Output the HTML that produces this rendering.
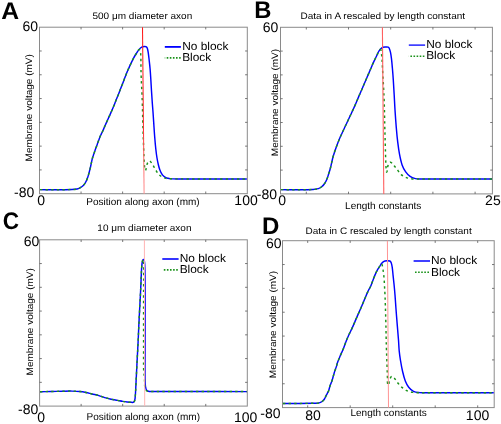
<!DOCTYPE html>
<html><head><meta charset="utf-8"><style>
html,body{margin:0;padding:0;background:#fff;}
svg{display:block;filter:blur(0.45px);}
text{font-family:"Liberation Sans", sans-serif;text-rendering:geometricPrecision;}
</style></head><body>
<svg width="501" height="424" viewBox="0 0 501 424">
<rect width="501" height="424" fill="#fff"/>
<rect x="39.50" y="27.20" width="207.80" height="166.50" fill="none" stroke="#8a8a8a" stroke-width="1"/>
<line x1="39.50" y1="50.99" x2="41.70" y2="50.99" stroke="#555" stroke-width="0.8" />
<line x1="247.30" y1="50.99" x2="245.10" y2="50.99" stroke="#555" stroke-width="0.8" />
<line x1="39.50" y1="74.77" x2="41.70" y2="74.77" stroke="#555" stroke-width="0.8" />
<line x1="247.30" y1="74.77" x2="245.10" y2="74.77" stroke="#555" stroke-width="0.8" />
<line x1="39.50" y1="98.56" x2="41.70" y2="98.56" stroke="#555" stroke-width="0.8" />
<line x1="247.30" y1="98.56" x2="245.10" y2="98.56" stroke="#555" stroke-width="0.8" />
<line x1="39.50" y1="122.34" x2="41.70" y2="122.34" stroke="#555" stroke-width="0.8" />
<line x1="247.30" y1="122.34" x2="245.10" y2="122.34" stroke="#555" stroke-width="0.8" />
<line x1="39.50" y1="146.13" x2="41.70" y2="146.13" stroke="#555" stroke-width="0.8" />
<line x1="247.30" y1="146.13" x2="245.10" y2="146.13" stroke="#555" stroke-width="0.8" />
<line x1="39.50" y1="169.91" x2="41.70" y2="169.91" stroke="#555" stroke-width="0.8" />
<line x1="247.30" y1="169.91" x2="245.10" y2="169.91" stroke="#555" stroke-width="0.8" />
<line x1="81.06" y1="27.20" x2="81.06" y2="29.40" stroke="#555" stroke-width="0.8" />
<line x1="81.06" y1="193.70" x2="81.06" y2="191.50" stroke="#555" stroke-width="0.8" />
<line x1="122.62" y1="27.20" x2="122.62" y2="29.40" stroke="#555" stroke-width="0.8" />
<line x1="122.62" y1="193.70" x2="122.62" y2="191.50" stroke="#555" stroke-width="0.8" />
<line x1="164.18" y1="27.20" x2="164.18" y2="29.40" stroke="#555" stroke-width="0.8" />
<line x1="164.18" y1="193.70" x2="164.18" y2="191.50" stroke="#555" stroke-width="0.8" />
<line x1="205.74" y1="27.20" x2="205.74" y2="29.40" stroke="#555" stroke-width="0.8" />
<line x1="205.74" y1="193.70" x2="205.74" y2="191.50" stroke="#555" stroke-width="0.8" />
<path d="M40.00,189.60 C46.33,189.67 52.67,189.82 59.00,189.80 C63.33,189.79 67.67,189.69 72.00,189.50 C73.67,189.43 75.36,189.35 77.00,189.00 C78.05,188.78 79.05,188.31 80.00,187.80 C81.06,187.23 82.13,186.63 83.00,185.80 C83.99,184.84 84.81,183.70 85.50,182.50 C86.32,181.08 86.93,179.54 87.50,178.00 C88.10,176.37 88.54,174.68 89.00,173.00 C89.54,171.01 90.04,169.01 90.50,167.00 C91.17,164.11 91.66,161.18 92.40,158.30 C92.77,156.87 93.33,155.50 93.80,154.10 C94.36,152.43 94.91,150.76 95.50,149.10 C96.08,147.46 96.71,145.84 97.30,144.20 C97.91,142.54 98.47,140.86 99.10,139.20 C99.64,137.79 100.19,136.38 100.80,135.00 C101.25,133.98 101.83,133.02 102.30,132.00 C103.00,130.48 103.63,128.93 104.30,127.40 C105.00,125.80 105.69,124.19 106.40,122.60 C107.09,121.06 107.80,119.53 108.50,118.00 C109.20,116.47 109.92,114.94 110.60,113.40 C111.25,111.94 111.88,110.47 112.50,109.00 C113.15,107.47 113.78,105.94 114.40,104.40 C115.04,102.80 115.66,101.20 116.30,99.60 C116.99,97.86 117.71,96.14 118.40,94.40 C119.11,92.60 119.79,90.80 120.50,89.00 C121.13,87.40 121.78,85.80 122.40,84.20 C123.01,82.64 123.61,81.07 124.20,79.50 C124.91,77.64 125.55,75.75 126.30,73.90 C127.05,72.05 127.89,70.23 128.70,68.40 C129.49,66.63 130.28,64.86 131.10,63.10 C131.81,61.59 132.51,60.07 133.30,58.60 C134.14,57.03 135.05,55.50 136.00,54.00 C136.95,52.50 137.91,51.00 139.00,49.60 C139.52,48.93 140.14,48.33 140.80,47.80 C141.35,47.36 141.93,46.91 142.60,46.70 C143.37,46.46 144.20,46.48 145.00,46.50 C145.48,46.51 146.02,46.52 146.40,46.80 C146.85,47.13 147.13,47.67 147.30,48.20 C147.74,49.53 147.99,50.92 148.20,52.30 C148.62,55.02 148.89,57.76 149.20,60.50 C149.52,63.33 149.85,66.16 150.10,69.00 C150.39,72.33 150.59,75.67 150.80,79.00 C151.05,83.00 151.25,87.00 151.50,91.00 C151.75,95.00 152.01,99.00 152.30,103.00 C152.51,106.00 152.79,109.00 153.00,112.00 C153.29,116.00 153.53,120.00 153.80,124.00 C154.09,128.33 154.35,132.67 154.70,137.00 C155.02,141.00 155.36,145.01 155.80,149.00 C156.13,152.01 156.52,155.01 157.00,158.00 C157.35,160.18 157.79,162.35 158.30,164.50 C158.72,166.29 159.17,168.07 159.80,169.80 C160.28,171.12 160.87,172.41 161.60,173.60 C162.21,174.59 162.93,175.53 163.80,176.30 C164.59,176.99 165.53,177.51 166.50,177.90 C167.45,178.28 168.49,178.44 169.50,178.60 C170.66,178.78 171.83,178.88 173.00,178.90 C177.00,178.98 181.00,178.90 185.00,178.90 C205.60,178.90 226.20,178.90 246.80,178.90" fill="none" stroke="#0000ff" stroke-width="1.45" stroke-linejoin="round" />
<path d="M40.00,189.60 C46.33,189.67 52.67,189.82 59.00,189.80 C63.33,189.79 67.67,189.69 72.00,189.50 C73.67,189.43 75.36,189.35 77.00,189.00 C78.05,188.78 79.05,188.31 80.00,187.80 C81.06,187.23 82.13,186.63 83.00,185.80 C83.99,184.84 84.81,183.70 85.50,182.50 C86.32,181.08 86.93,179.54 87.50,178.00 C88.10,176.37 88.54,174.68 89.00,173.00 C89.54,171.01 90.04,169.01 90.50,167.00 C91.17,164.11 91.66,161.18 92.40,158.30 C92.77,156.87 93.33,155.50 93.80,154.10 C94.36,152.43 94.91,150.76 95.50,149.10 C96.08,147.46 96.71,145.84 97.30,144.20 C97.91,142.54 98.47,140.86 99.10,139.20 C99.64,137.79 100.19,136.38 100.80,135.00 C101.25,133.98 101.83,133.02 102.30,132.00 C103.00,130.48 103.63,128.93 104.30,127.40 C105.00,125.80 105.69,124.19 106.40,122.60 C107.09,121.06 107.80,119.53 108.50,118.00 C109.20,116.47 109.92,114.94 110.60,113.40 C111.25,111.94 111.88,110.47 112.50,109.00 C113.15,107.47 113.78,105.94 114.40,104.40 C115.04,102.80 115.66,101.20 116.30,99.60 C116.99,97.86 117.71,96.14 118.40,94.40 C119.11,92.60 119.79,90.80 120.50,89.00 C121.13,87.40 121.78,85.80 122.40,84.20 C123.01,82.64 123.61,81.07 124.20,79.50 C124.91,77.64 125.55,75.75 126.30,73.90 C127.05,72.05 127.89,70.23 128.70,68.40 C129.49,66.63 130.28,64.86 131.10,63.10 C131.81,61.59 132.51,60.07 133.30,58.60 C134.14,57.03 135.05,55.50 136.00,54.00 C136.95,52.50 137.62,50.72 139.00,49.60 C139.40,49.27 140.01,50.11 140.20,50.60 C140.61,51.67 140.61,52.86 140.70,54.00 C140.85,56.00 140.86,58.00 140.90,60.00 C140.96,63.33 140.93,66.67 141.00,70.00 C141.07,73.33 141.16,76.67 141.30,80.00 C141.46,84.00 141.73,88.00 141.90,92.00 C142.10,96.67 142.26,101.33 142.40,106.00 C142.56,111.33 142.65,116.67 142.80,122.00 C142.92,126.33 143.06,130.67 143.20,135.00 C143.33,139.00 143.46,143.00 143.60,147.00 C143.69,149.67 143.78,152.33 143.90,155.00 C144.02,157.67 144.12,160.34 144.30,163.00 C144.42,164.84 144.51,166.68 144.80,168.50 C144.91,169.17 145.14,170.97 145.50,170.40 C146.40,168.98 146.22,167.11 146.70,165.50 C147.06,164.31 147.40,163.09 148.00,162.00 C148.29,161.48 148.71,160.76 149.30,160.80 C150.03,160.85 150.52,161.64 151.00,162.20 C151.73,163.06 152.32,164.03 152.90,165.00 C153.95,166.74 154.80,168.59 155.90,170.30 C156.91,171.86 157.86,173.51 159.20,174.80 C160.43,175.98 161.96,176.85 163.50,177.60 C164.59,178.13 165.80,178.41 167.00,178.60 C168.32,178.81 169.67,178.78 171.00,178.80 C175.67,178.88 180.33,178.89 185.00,178.90 C205.60,178.93 226.20,178.90 246.80,178.90" fill="none" stroke="#1a921a" stroke-width="1.45" stroke-linejoin="round" stroke-dasharray="2.4 3.2"/>
<defs><linearGradient id="rgA" gradientUnits="userSpaceOnUse" x1="0" y1="27" x2="0" y2="194"><stop offset="0" stop-color="#ff1a1a"/><stop offset="0.6" stop-color="#ff3030"/><stop offset="0.8" stop-color="#ff7070"/><stop offset="1" stop-color="#ff9494"/></linearGradient></defs>
<line x1="142.50" y1="27.20" x2="144.10" y2="193.70" stroke="url(#rgA)" stroke-width="1.05" />
<text transform="translate(1.18,18.60) scale(1.03,1.0)" font-size="24" font-weight="bold" fill="#000">A</text>
<text transform="translate(22.40,30.60) scale(1.0,1.0)" font-size="14" font-weight="normal" fill="#000">60</text>
<text transform="translate(14.07,196.60) scale(1.0,1.0)" font-size="14" font-weight="normal" fill="#000">-80</text>
<text transform="translate(37.24,205.10) scale(1.0,1.0)" font-size="14" font-weight="normal" fill="#000">0</text>
<text transform="translate(234.35,205.10) scale(1.0,1.0)" font-size="14" font-weight="normal" fill="#000">100</text>
<text transform="translate(92.50,19.00) scale(1.0,0.94)" font-size="10" font-weight="normal" fill="#000">500 μm diameter axon</text>
<text transform="translate(86.30,204.50) scale(1.0,1.0)" font-size="10" font-weight="normal" fill="#000">Position along axon (mm)</text>
<text transform="translate(32.20,161.40) rotate(-90) scale(1.0,0.94)" font-size="10" font-weight="normal" fill="#000">Membrane voltage (mV)</text>
<line x1="164.80" y1="46.90" x2="180.90" y2="46.90" stroke="#0000ff" stroke-width="1.8" />
<line x1="164.80" y1="57.90" x2="180.90" y2="57.90" stroke="#1a921a" stroke-width="1.6" stroke-dasharray="1.6 1.5" stroke-dashoffset="1.2"/>
<text transform="translate(182.15,50.00) scale(1.0,0.97)" font-size="11.9" font-weight="normal" fill="#000">No block</text>
<text transform="translate(182.15,61.40) scale(1.0,0.97)" font-size="11.9" font-weight="normal" fill="#000">Block</text>
<rect x="280.50" y="27.30" width="211.90" height="166.60" fill="none" stroke="#8a8a8a" stroke-width="1"/>
<line x1="280.50" y1="51.10" x2="282.70" y2="51.10" stroke="#555" stroke-width="0.8" />
<line x1="492.40" y1="51.10" x2="490.20" y2="51.10" stroke="#555" stroke-width="0.8" />
<line x1="280.50" y1="74.90" x2="282.70" y2="74.90" stroke="#555" stroke-width="0.8" />
<line x1="492.40" y1="74.90" x2="490.20" y2="74.90" stroke="#555" stroke-width="0.8" />
<line x1="280.50" y1="98.70" x2="282.70" y2="98.70" stroke="#555" stroke-width="0.8" />
<line x1="492.40" y1="98.70" x2="490.20" y2="98.70" stroke="#555" stroke-width="0.8" />
<line x1="280.50" y1="122.50" x2="282.70" y2="122.50" stroke="#555" stroke-width="0.8" />
<line x1="492.40" y1="122.50" x2="490.20" y2="122.50" stroke="#555" stroke-width="0.8" />
<line x1="280.50" y1="146.30" x2="282.70" y2="146.30" stroke="#555" stroke-width="0.8" />
<line x1="492.40" y1="146.30" x2="490.20" y2="146.30" stroke="#555" stroke-width="0.8" />
<line x1="280.50" y1="170.10" x2="282.70" y2="170.10" stroke="#555" stroke-width="0.8" />
<line x1="492.40" y1="170.10" x2="490.20" y2="170.10" stroke="#555" stroke-width="0.8" />
<line x1="306.30" y1="27.30" x2="306.30" y2="29.50" stroke="#555" stroke-width="0.8" />
<line x1="306.30" y1="193.90" x2="306.30" y2="191.70" stroke="#555" stroke-width="0.8" />
<line x1="348.50" y1="27.30" x2="348.50" y2="29.50" stroke="#555" stroke-width="0.8" />
<line x1="348.50" y1="193.90" x2="348.50" y2="191.70" stroke="#555" stroke-width="0.8" />
<line x1="390.70" y1="27.30" x2="390.70" y2="29.50" stroke="#555" stroke-width="0.8" />
<line x1="390.70" y1="193.90" x2="390.70" y2="191.70" stroke="#555" stroke-width="0.8" />
<line x1="432.90" y1="27.30" x2="432.90" y2="29.50" stroke="#555" stroke-width="0.8" />
<line x1="432.90" y1="193.90" x2="432.90" y2="191.70" stroke="#555" stroke-width="0.8" />
<line x1="475.10" y1="27.30" x2="475.10" y2="29.50" stroke="#555" stroke-width="0.8" />
<line x1="475.10" y1="193.90" x2="475.10" y2="191.70" stroke="#555" stroke-width="0.8" />
<path d="M281.00,189.60 C287.33,189.67 293.67,189.82 300.00,189.80 C304.33,189.79 308.67,189.78 313.00,189.50 C314.79,189.38 316.58,189.12 318.30,188.60 C319.39,188.27 320.40,187.69 321.30,187.00 C322.42,186.14 323.46,185.14 324.30,184.00 C325.31,182.62 326.12,181.08 326.80,179.50 C327.56,177.73 328.02,175.84 328.60,174.00 C329.18,172.17 329.82,170.36 330.30,168.50 C331.29,164.69 332.00,160.81 333.00,157.00 C333.50,155.07 334.18,153.19 334.80,151.30 C335.34,149.66 335.90,148.02 336.50,146.40 C337.20,144.49 337.93,142.59 338.70,140.70 C339.37,139.05 340.07,137.42 340.80,135.80 C341.60,134.02 342.47,132.27 343.30,130.50 C344.20,128.57 345.09,126.63 346.00,124.70 C346.69,123.23 347.41,121.77 348.10,120.30 C348.81,118.80 349.50,117.30 350.20,115.80 C351.00,114.07 351.80,112.33 352.60,110.60 C353.40,108.87 354.23,107.15 355.00,105.40 C355.79,103.61 356.54,101.80 357.30,100.00 C358.00,98.34 358.69,96.66 359.40,95.00 C360.09,93.39 360.81,91.80 361.50,90.20 C362.21,88.57 362.90,86.93 363.60,85.30 C364.33,83.60 365.06,81.90 365.80,80.20 C366.56,78.43 367.34,76.67 368.10,74.90 C368.80,73.27 369.51,71.64 370.20,70.00 C370.91,68.34 371.58,66.66 372.30,65.00 C372.94,63.52 373.61,62.06 374.30,60.60 C375.11,58.89 375.98,57.20 376.80,55.50 C377.44,54.17 377.94,52.77 378.70,51.50 C379.28,50.52 379.98,49.60 380.80,48.80 C381.43,48.18 382.17,47.62 383.00,47.30 C383.78,47.00 384.66,47.03 385.50,47.00 C386.40,46.97 387.34,46.82 388.20,47.10 C388.67,47.25 389.00,47.75 389.20,48.20 C389.78,49.51 390.20,50.90 390.50,52.30 C390.97,54.48 391.24,56.69 391.50,58.90 C391.87,62.03 392.13,65.16 392.40,68.30 C392.73,72.20 393.04,76.10 393.30,80.00 C393.64,85.00 393.92,90.00 394.20,95.00 C394.48,100.00 394.68,105.00 395.00,110.00 C395.38,115.90 395.80,121.81 396.30,127.70 C396.70,132.44 397.13,137.18 397.70,141.90 C398.20,146.01 398.72,150.13 399.50,154.20 C400.19,157.81 400.89,161.44 402.10,164.90 C402.97,167.38 404.20,169.75 405.70,171.90 C406.90,173.62 408.37,175.21 410.10,176.40 C411.67,177.49 413.55,178.11 415.40,178.60 C416.89,178.99 418.46,178.99 420.00,179.00 C444.00,179.13 468.00,179.00 492.00,179.00" fill="none" stroke="#0000ff" stroke-width="1.45" stroke-linejoin="round" />
<path d="M281.00,189.60 C287.33,189.67 293.67,189.82 300.00,189.80 C304.33,189.79 308.67,189.78 313.00,189.50 C314.79,189.38 316.58,189.12 318.30,188.60 C319.39,188.27 320.40,187.69 321.30,187.00 C322.42,186.14 323.46,185.14 324.30,184.00 C325.31,182.62 326.12,181.08 326.80,179.50 C327.56,177.73 328.02,175.84 328.60,174.00 C329.18,172.17 329.82,170.36 330.30,168.50 C331.29,164.69 332.00,160.81 333.00,157.00 C333.50,155.07 334.18,153.19 334.80,151.30 C335.34,149.66 335.90,148.02 336.50,146.40 C337.20,144.49 337.93,142.59 338.70,140.70 C339.37,139.05 340.07,137.42 340.80,135.80 C341.60,134.02 342.47,132.27 343.30,130.50 C344.20,128.57 345.09,126.63 346.00,124.70 C346.69,123.23 347.41,121.77 348.10,120.30 C348.81,118.80 349.50,117.30 350.20,115.80 C351.00,114.07 351.80,112.33 352.60,110.60 C353.40,108.87 354.23,107.15 355.00,105.40 C355.79,103.61 356.54,101.80 357.30,100.00 C358.00,98.34 358.69,96.66 359.40,95.00 C360.09,93.39 360.81,91.80 361.50,90.20 C362.21,88.57 362.90,86.93 363.60,85.30 C364.33,83.60 365.06,81.90 365.80,80.20 C366.56,78.43 367.34,76.67 368.10,74.90 C368.80,73.27 369.51,71.64 370.20,70.00 C370.91,68.34 371.58,66.66 372.30,65.00 C372.94,63.52 373.61,62.06 374.30,60.60 C375.11,58.89 375.98,57.20 376.80,55.50 C377.44,54.17 377.90,52.74 378.70,51.50 C379.18,50.75 379.96,48.98 380.60,49.60 C381.72,50.68 381.27,52.66 381.50,54.20 C381.73,55.76 381.89,57.33 382.00,58.90 C382.22,62.03 382.33,65.17 382.50,68.30 C382.67,71.43 382.83,74.57 383.00,77.70 C383.26,82.47 383.58,87.23 383.80,92.00 C384.05,97.33 384.25,102.67 384.40,108.00 C384.58,114.57 384.64,121.13 384.80,127.70 C384.94,133.60 385.13,139.50 385.30,145.40 C385.43,150.13 385.52,154.87 385.70,159.60 C385.82,162.90 385.91,166.21 386.20,169.50 C386.28,170.35 386.45,172.78 386.80,172.00 C387.70,169.99 387.44,167.63 388.00,165.50 C388.25,164.55 388.59,163.57 389.20,162.80 C389.51,162.40 390.10,162.09 390.60,162.20 C391.32,162.36 391.88,162.98 392.40,163.50 C393.09,164.19 393.60,165.04 394.20,165.80 C395.36,167.27 396.53,168.73 397.70,170.20 C398.87,171.67 399.80,173.36 401.20,174.60 C402.51,175.76 404.09,176.62 405.70,177.30 C407.39,178.01 409.20,178.40 411.00,178.70 C412.65,178.97 414.33,178.99 416.00,179.00 C441.33,179.09 466.67,179.00 492.00,179.00" fill="none" stroke="#1a921a" stroke-width="1.45" stroke-linejoin="round" stroke-dasharray="2.4 3.2"/>
<line x1="382.40" y1="27.30" x2="383.80" y2="193.90" stroke="#ff6060" stroke-width="1.1" />
<text transform="translate(254.36,17.55) scale(0.99,1.0)" font-size="24" font-weight="bold" fill="#000">B</text>
<text transform="translate(262.70,32.00) scale(1.0,1.0)" font-size="14" font-weight="normal" fill="#000">60</text>
<text transform="translate(256.87,199.00) scale(1.0,1.0)" font-size="14" font-weight="normal" fill="#000">-80</text>
<text transform="translate(278.34,205.10) scale(1.0,1.0)" font-size="14" font-weight="normal" fill="#000">0</text>
<text transform="translate(485.10,204.80) scale(1.0,1.0)" font-size="14" font-weight="normal" fill="#000">25</text>
<text transform="translate(300.50,19.30) scale(1.0,0.94)" font-size="10" font-weight="normal" fill="#000">Data in A rescaled by length constant</text>
<text transform="translate(345.10,209.30) scale(1.0,1.0)" font-size="10" font-weight="normal" fill="#000">Length constants</text>
<text transform="translate(277.80,156.20) rotate(-90) scale(1.0,0.94)" font-size="10" font-weight="normal" fill="#000">Membrane voltage (mV)</text>
<line x1="408.80" y1="45.10" x2="425.10" y2="45.10" stroke="#0000ff" stroke-width="1.3" />
<line x1="408.80" y1="56.20" x2="425.10" y2="56.20" stroke="#1a921a" stroke-width="1.6" stroke-dasharray="1.6 1.5" stroke-dashoffset="1.5"/>
<text transform="translate(426.15,47.60) scale(1.0,0.97)" font-size="11.9" font-weight="normal" fill="#000">No block</text>
<text transform="translate(426.15,58.90) scale(1.0,0.97)" font-size="11.9" font-weight="normal" fill="#000">Block</text>
<rect x="39.60" y="239.80" width="207.70" height="166.30" fill="none" stroke="#8a8a8a" stroke-width="1"/>
<line x1="39.60" y1="263.56" x2="41.80" y2="263.56" stroke="#555" stroke-width="0.8" />
<line x1="247.30" y1="263.56" x2="245.10" y2="263.56" stroke="#555" stroke-width="0.8" />
<line x1="39.60" y1="287.31" x2="41.80" y2="287.31" stroke="#555" stroke-width="0.8" />
<line x1="247.30" y1="287.31" x2="245.10" y2="287.31" stroke="#555" stroke-width="0.8" />
<line x1="39.60" y1="311.07" x2="41.80" y2="311.07" stroke="#555" stroke-width="0.8" />
<line x1="247.30" y1="311.07" x2="245.10" y2="311.07" stroke="#555" stroke-width="0.8" />
<line x1="39.60" y1="334.83" x2="41.80" y2="334.83" stroke="#555" stroke-width="0.8" />
<line x1="247.30" y1="334.83" x2="245.10" y2="334.83" stroke="#555" stroke-width="0.8" />
<line x1="39.60" y1="358.59" x2="41.80" y2="358.59" stroke="#555" stroke-width="0.8" />
<line x1="247.30" y1="358.59" x2="245.10" y2="358.59" stroke="#555" stroke-width="0.8" />
<line x1="39.60" y1="382.34" x2="41.80" y2="382.34" stroke="#555" stroke-width="0.8" />
<line x1="247.30" y1="382.34" x2="245.10" y2="382.34" stroke="#555" stroke-width="0.8" />
<line x1="81.14" y1="239.80" x2="81.14" y2="242.00" stroke="#555" stroke-width="0.8" />
<line x1="81.14" y1="406.10" x2="81.14" y2="403.90" stroke="#555" stroke-width="0.8" />
<line x1="122.68" y1="239.80" x2="122.68" y2="242.00" stroke="#555" stroke-width="0.8" />
<line x1="122.68" y1="406.10" x2="122.68" y2="403.90" stroke="#555" stroke-width="0.8" />
<line x1="164.22" y1="239.80" x2="164.22" y2="242.00" stroke="#555" stroke-width="0.8" />
<line x1="164.22" y1="406.10" x2="164.22" y2="403.90" stroke="#555" stroke-width="0.8" />
<line x1="205.76" y1="239.80" x2="205.76" y2="242.00" stroke="#555" stroke-width="0.8" />
<line x1="205.76" y1="406.10" x2="205.76" y2="403.90" stroke="#555" stroke-width="0.8" />
<path d="M40.00,391.70 C43.67,391.63 47.33,391.58 51.00,391.50 C55.00,391.41 59.00,391.28 63.00,391.20 C66.00,391.14 69.00,391.05 72.00,391.10 C74.67,391.15 77.34,391.23 80.00,391.50 C82.02,391.70 84.02,392.09 86.00,392.50 C88.02,392.92 90.00,393.52 92.00,394.00 C94.30,394.55 96.63,394.96 98.90,395.60 C100.87,396.16 102.74,397.02 104.70,397.60 C106.78,398.22 108.88,398.74 111.00,399.20 C113.15,399.67 115.33,400.00 117.50,400.40 C119.27,400.73 121.03,401.10 122.80,401.40 C124.23,401.64 125.66,401.85 127.10,402.00 C128.23,402.12 129.37,402.15 130.50,402.20 C131.43,402.25 132.42,402.60 133.30,402.30 C133.93,402.09 134.40,401.43 134.60,400.80 C135.09,399.26 135.18,397.61 135.30,396.00 C135.68,391.01 135.84,386.00 136.10,381.00 C136.44,374.33 136.76,367.67 137.10,361.00 C137.42,354.67 137.79,348.33 138.10,342.00 C138.36,336.67 138.55,331.33 138.80,326.00 C139.05,320.67 139.32,315.33 139.60,310.00 C139.86,305.00 140.15,300.00 140.40,295.00 C140.62,290.67 140.80,286.33 141.00,282.00 C141.23,277.00 141.34,271.99 141.70,267.00 C141.84,264.99 142.06,262.97 142.50,261.00 C142.63,260.40 142.85,259.66 143.40,259.40 C143.74,259.24 144.10,259.84 144.20,260.20 C144.55,261.43 144.63,262.72 144.70,264.00 C144.90,267.66 144.96,271.33 145.00,275.00 C145.09,283.33 145.09,291.67 145.10,300.00 C145.12,316.67 145.10,333.33 145.10,350.00 C145.10,360.00 144.99,370.00 145.10,380.00 C145.12,382.17 145.18,384.35 145.50,386.50 C145.69,387.77 145.92,389.11 146.60,390.20 C146.99,390.82 147.80,391.09 148.50,391.30 C149.30,391.54 150.16,391.50 151.00,391.50 C183.00,391.60 215.00,391.57 247.00,391.60" fill="none" stroke="#0000ff" stroke-width="1.45" stroke-linejoin="round" />
<path d="M40.00,391.70 C43.67,391.63 47.33,391.58 51.00,391.50 C55.00,391.41 59.00,391.28 63.00,391.20 C66.00,391.14 69.00,391.05 72.00,391.10 C74.67,391.15 77.34,391.23 80.00,391.50 C82.02,391.70 84.02,392.09 86.00,392.50 C88.02,392.92 90.00,393.52 92.00,394.00 C94.30,394.55 96.63,394.96 98.90,395.60 C100.87,396.16 102.74,397.02 104.70,397.60 C106.78,398.22 108.88,398.74 111.00,399.20 C113.15,399.67 115.33,400.00 117.50,400.40 C119.27,400.73 121.03,401.10 122.80,401.40 C124.23,401.64 125.66,401.85 127.10,402.00 C128.23,402.12 129.37,402.15 130.50,402.20 C131.43,402.25 132.42,402.60 133.30,402.30 C133.93,402.09 134.40,401.43 134.60,400.80 C135.09,399.26 135.18,397.61 135.30,396.00 C135.68,391.01 135.84,386.00 136.10,381.00 C136.44,374.33 136.76,367.67 137.10,361.00 C137.42,354.67 137.79,348.33 138.10,342.00 C138.36,336.67 138.55,331.33 138.80,326.00 C139.05,320.67 139.32,315.33 139.60,310.00 C139.86,305.00 140.15,300.00 140.40,295.00 C140.62,290.67 140.80,286.33 141.00,282.00 C141.23,277.00 141.34,271.99 141.70,267.00 C141.84,264.99 142.06,262.97 142.50,261.00 C142.63,260.40 143.09,258.88 143.40,259.40 C144.02,260.43 143.69,261.80 143.70,263.00 C143.76,275.33 143.61,287.67 143.60,300.00 C143.58,316.67 143.58,333.33 143.60,350.00 C143.61,357.33 143.47,364.67 143.70,372.00 C143.74,373.35 144.23,374.66 144.40,376.00 C144.53,376.99 144.59,378.00 144.60,379.00 C144.62,380.67 144.39,382.34 144.50,384.00 C144.60,385.52 144.77,387.04 145.20,388.50 C145.45,389.34 145.84,390.22 146.50,390.80 C147.02,391.26 147.81,391.29 148.50,391.40 C149.32,391.53 150.17,391.50 151.00,391.50 C183.00,391.56 215.00,391.57 247.00,391.60" fill="none" stroke="#1a921a" stroke-width="1.45" stroke-linejoin="round" stroke-dasharray="2.4 3.2"/>
<line x1="144.40" y1="239.80" x2="144.70" y2="406.10" stroke="#ffb4b4" stroke-width="1.0" />
<text transform="translate(2.70,228.60) scale(0.94,1.0)" font-size="24" font-weight="bold" fill="#000">C</text>
<text transform="translate(23.80,245.50) scale(1.0,1.0)" font-size="14" font-weight="normal" fill="#000">60</text>
<text transform="translate(18.07,413.80) scale(1.0,1.0)" font-size="14" font-weight="normal" fill="#000">-80</text>
<text transform="translate(37.24,421.70) scale(1.0,1.0)" font-size="14" font-weight="normal" fill="#000">0</text>
<text transform="translate(234.05,421.50) scale(1.0,1.0)" font-size="14" font-weight="normal" fill="#000">100</text>
<text transform="translate(97.35,230.50) scale(1.0,0.94)" font-size="10" font-weight="normal" fill="#000">10 μm diameter axon</text>
<text transform="translate(86.60,420.00) scale(1.0,1.0)" font-size="10" font-weight="normal" fill="#000">Position along axon (mm)</text>
<text transform="translate(33.40,375.40) rotate(-90) scale(1.0,0.94)" font-size="10" font-weight="normal" fill="#000">Membrane voltage (mV)</text>
<line x1="162.30" y1="259.00" x2="178.60" y2="259.00" stroke="#0000ff" stroke-width="1.6" />
<line x1="162.30" y1="269.90" x2="178.60" y2="269.90" stroke="#1a921a" stroke-width="1.6" stroke-dasharray="1.6 1.5" stroke-dashoffset="1.6"/>
<text transform="translate(179.65,261.50) scale(1.0,0.97)" font-size="11.9" font-weight="normal" fill="#000">No block</text>
<text transform="translate(179.65,272.70) scale(1.0,0.97)" font-size="11.9" font-weight="normal" fill="#000">Block</text>
<rect x="282.50" y="240.70" width="211.70" height="166.90" fill="none" stroke="#8a8a8a" stroke-width="1"/>
<line x1="282.50" y1="264.54" x2="284.70" y2="264.54" stroke="#555" stroke-width="0.8" />
<line x1="494.20" y1="264.54" x2="492.00" y2="264.54" stroke="#555" stroke-width="0.8" />
<line x1="282.50" y1="288.39" x2="284.70" y2="288.39" stroke="#555" stroke-width="0.8" />
<line x1="494.20" y1="288.39" x2="492.00" y2="288.39" stroke="#555" stroke-width="0.8" />
<line x1="282.50" y1="312.23" x2="284.70" y2="312.23" stroke="#555" stroke-width="0.8" />
<line x1="494.20" y1="312.23" x2="492.00" y2="312.23" stroke="#555" stroke-width="0.8" />
<line x1="282.50" y1="336.07" x2="284.70" y2="336.07" stroke="#555" stroke-width="0.8" />
<line x1="494.20" y1="336.07" x2="492.00" y2="336.07" stroke="#555" stroke-width="0.8" />
<line x1="282.50" y1="359.91" x2="284.70" y2="359.91" stroke="#555" stroke-width="0.8" />
<line x1="494.20" y1="359.91" x2="492.00" y2="359.91" stroke="#555" stroke-width="0.8" />
<line x1="282.50" y1="383.76" x2="284.70" y2="383.76" stroke="#555" stroke-width="0.8" />
<line x1="494.20" y1="383.76" x2="492.00" y2="383.76" stroke="#555" stroke-width="0.8" />
<line x1="307.70" y1="240.70" x2="307.70" y2="242.90" stroke="#555" stroke-width="0.8" />
<line x1="307.70" y1="407.60" x2="307.70" y2="405.40" stroke="#555" stroke-width="0.8" />
<line x1="350.20" y1="240.70" x2="350.20" y2="242.90" stroke="#555" stroke-width="0.8" />
<line x1="350.20" y1="407.60" x2="350.20" y2="405.40" stroke="#555" stroke-width="0.8" />
<line x1="392.70" y1="240.70" x2="392.70" y2="242.90" stroke="#555" stroke-width="0.8" />
<line x1="392.70" y1="407.60" x2="392.70" y2="405.40" stroke="#555" stroke-width="0.8" />
<line x1="435.20" y1="240.70" x2="435.20" y2="242.90" stroke="#555" stroke-width="0.8" />
<line x1="435.20" y1="407.60" x2="435.20" y2="405.40" stroke="#555" stroke-width="0.8" />
<line x1="477.70" y1="240.70" x2="477.70" y2="242.90" stroke="#555" stroke-width="0.8" />
<line x1="477.70" y1="407.60" x2="477.70" y2="405.40" stroke="#555" stroke-width="0.8" />
<path d="M283.00,403.40 C288.67,403.40 294.33,403.42 300.00,403.40 C304.00,403.39 308.00,403.37 312.00,403.30 C314.00,403.27 316.01,403.31 318.00,403.10 C318.86,403.01 319.71,402.75 320.50,402.40 C321.31,402.04 322.08,401.58 322.75,401.00 C323.41,400.43 323.98,399.74 324.45,399.00 C325.02,398.12 325.38,397.13 325.85,396.20 C326.31,395.30 326.79,394.40 327.25,393.50 C327.69,392.64 328.22,391.81 328.55,390.90 C329.19,389.14 329.55,387.28 330.15,385.50 C330.75,383.71 331.57,382.00 332.15,380.20 C332.94,377.76 333.49,375.25 334.25,372.80 C334.92,370.65 335.78,368.55 336.45,366.40 C336.81,365.25 336.95,364.03 337.35,362.90 C338.15,360.66 339.13,358.49 340.05,356.30 C341.09,353.82 342.25,351.39 343.25,348.90 C344.25,346.42 345.05,343.88 346.05,341.40 C347.05,338.91 348.13,336.44 349.25,334.00 C350.27,331.78 351.43,329.62 352.45,327.40 C353.36,325.42 354.19,323.40 355.05,321.40 C355.99,319.23 356.91,317.06 357.85,314.90 C358.97,312.33 360.14,309.78 361.25,307.20 C362.37,304.61 363.45,302.00 364.55,299.40 C365.65,296.80 366.66,294.16 367.85,291.60 C368.63,289.92 369.69,288.38 370.45,286.70 C371.32,284.78 371.99,282.77 372.75,280.80 C373.55,278.73 374.28,276.64 375.15,274.60 C375.85,272.97 376.58,271.35 377.45,269.80 C378.15,268.54 379.07,267.41 379.85,266.20 C380.35,265.41 380.73,264.54 381.30,263.80 C381.85,263.09 382.49,262.44 383.20,261.90 C383.73,261.50 384.36,261.20 385.00,261.00 C385.64,260.80 386.33,260.70 387.00,260.70 C387.94,260.70 388.96,260.58 389.80,261.00 C390.48,261.34 390.92,262.09 391.20,262.80 C391.74,264.17 391.98,265.64 392.20,267.10 C392.62,269.92 392.80,272.77 393.10,275.60 C393.43,278.73 393.79,281.86 394.10,285.00 C394.43,288.33 394.74,291.66 395.00,295.00 C395.34,299.23 395.58,303.47 395.90,307.70 C396.28,312.83 396.69,317.97 397.10,323.10 C397.55,328.73 398.07,334.36 398.50,340.00 C398.77,343.63 398.85,347.28 399.20,350.90 C399.51,354.11 399.97,357.31 400.50,360.50 C401.11,364.18 401.75,367.87 402.60,371.50 C403.35,374.71 404.11,377.93 405.30,381.00 C406.15,383.20 407.23,385.36 408.70,387.20 C410.01,388.85 411.61,390.37 413.50,391.30 C415.40,392.23 417.60,392.34 419.70,392.60 C421.45,392.81 423.23,392.70 425.00,392.70 C447.90,392.73 470.80,392.70 493.70,392.70" fill="none" stroke="#0000ff" stroke-width="1.45" stroke-linejoin="round" />
<path d="M283.00,403.40 C288.67,403.40 294.33,403.42 300.00,403.40 C304.00,403.39 308.00,403.37 312.00,403.30 C314.00,403.27 316.01,403.31 318.00,403.10 C318.86,403.01 319.71,402.75 320.50,402.40 C321.31,402.04 322.08,401.58 322.75,401.00 C323.41,400.43 323.98,399.74 324.45,399.00 C325.02,398.12 325.38,397.13 325.85,396.20 C326.31,395.30 326.79,394.40 327.25,393.50 C327.69,392.64 328.22,391.81 328.55,390.90 C329.19,389.14 329.55,387.28 330.15,385.50 C330.75,383.71 331.57,382.00 332.15,380.20 C332.94,377.76 333.49,375.25 334.25,372.80 C334.92,370.65 335.78,368.55 336.45,366.40 C336.81,365.25 336.95,364.03 337.35,362.90 C338.15,360.66 339.13,358.49 340.05,356.30 C341.09,353.82 342.25,351.39 343.25,348.90 C344.25,346.42 345.05,343.88 346.05,341.40 C347.05,338.91 348.13,336.44 349.25,334.00 C350.27,331.78 351.43,329.62 352.45,327.40 C353.36,325.42 354.19,323.40 355.05,321.40 C355.99,319.23 356.91,317.06 357.85,314.90 C358.97,312.33 360.14,309.78 361.25,307.20 C362.37,304.61 363.45,302.00 364.55,299.40 C365.65,296.80 366.66,294.16 367.85,291.60 C368.63,289.92 369.69,288.38 370.45,286.70 C371.32,284.78 371.99,282.77 372.75,280.80 C373.55,278.73 374.28,276.64 375.15,274.60 C375.85,272.97 376.58,271.35 377.45,269.80 C378.15,268.54 379.07,267.41 379.85,266.20 C380.35,265.41 380.51,263.30 381.30,263.80 C382.55,264.59 382.38,266.56 382.70,268.00 C383.18,270.17 383.43,272.39 383.70,274.60 C383.93,276.49 384.07,278.40 384.20,280.30 C384.37,282.80 384.46,285.30 384.60,287.80 C384.73,290.20 384.90,292.60 385.00,295.00 C385.20,300.00 385.35,305.00 385.50,310.00 C385.65,315.00 385.78,320.00 385.90,325.00 C386.02,330.00 386.08,335.00 386.20,340.00 C386.31,344.57 386.45,349.13 386.60,353.70 C386.75,358.27 386.93,362.83 387.10,367.40 C387.23,371.03 387.27,374.67 387.50,378.30 C387.64,380.57 386.94,383.20 388.20,385.10 C388.98,386.28 388.87,382.35 389.30,381.00 C389.64,379.91 389.93,378.79 390.50,377.80 C390.85,377.19 391.31,376.44 392.00,376.30 C392.57,376.19 393.07,376.81 393.50,377.20 C394.08,377.72 394.53,378.38 395.00,379.00 C396.20,380.58 397.21,382.29 398.50,383.80 C399.76,385.27 401.09,386.69 402.60,387.90 C404.07,389.08 405.67,390.14 407.40,390.90 C409.11,391.65 410.96,392.05 412.80,392.40 C414.15,392.66 415.53,392.67 416.90,392.70 C419.60,392.77 422.30,392.70 425.00,392.70 C447.90,392.70 470.80,392.70 493.70,392.70" fill="none" stroke="#1a921a" stroke-width="1.45" stroke-linejoin="round" stroke-dasharray="2.4 3.2"/>
<line x1="387.40" y1="240.70" x2="388.50" y2="407.60" stroke="#ff9494" stroke-width="1.0" />
<text transform="translate(262.04,233.60) scale(1.0,1.0)" font-size="24" font-weight="bold" fill="#000">D</text>
<text transform="translate(266.00,248.30) scale(1.0,1.0)" font-size="14" font-weight="normal" fill="#000">60</text>
<text transform="translate(260.27,418.00) scale(1.0,1.0)" font-size="14" font-weight="normal" fill="#000">-80</text>
<text transform="translate(305.17,419.90) scale(1.0,1.0)" font-size="14" font-weight="normal" fill="#000">80</text>
<text transform="translate(465.85,420.00) scale(1.0,1.0)" font-size="14" font-weight="normal" fill="#000">100</text>
<text transform="translate(305.50,233.50) scale(1.0,0.94)" font-size="10" font-weight="normal" fill="#000">Data in C rescaled by length constant</text>
<text transform="translate(350.50,416.10) scale(1.0,1.0)" font-size="10" font-weight="normal" fill="#000">Length constants</text>
<text transform="translate(275.70,378.20) rotate(-90) scale(1.0,0.94)" font-size="10" font-weight="normal" fill="#000">Membrane voltage (mV)</text>
<line x1="413.60" y1="261.00" x2="430.00" y2="261.00" stroke="#0000ff" stroke-width="1.5" />
<line x1="413.60" y1="272.30" x2="430.00" y2="272.30" stroke="#1a921a" stroke-width="1.6" stroke-dasharray="1.6 1.5" stroke-dashoffset="1.7"/>
<text transform="translate(430.95,264.00) scale(1.0,0.97)" font-size="11.9" font-weight="normal" fill="#000">No block</text>
<text transform="translate(430.95,276.00) scale(1.0,0.97)" font-size="11.9" font-weight="normal" fill="#000">Block</text>
</svg>
</body></html>
